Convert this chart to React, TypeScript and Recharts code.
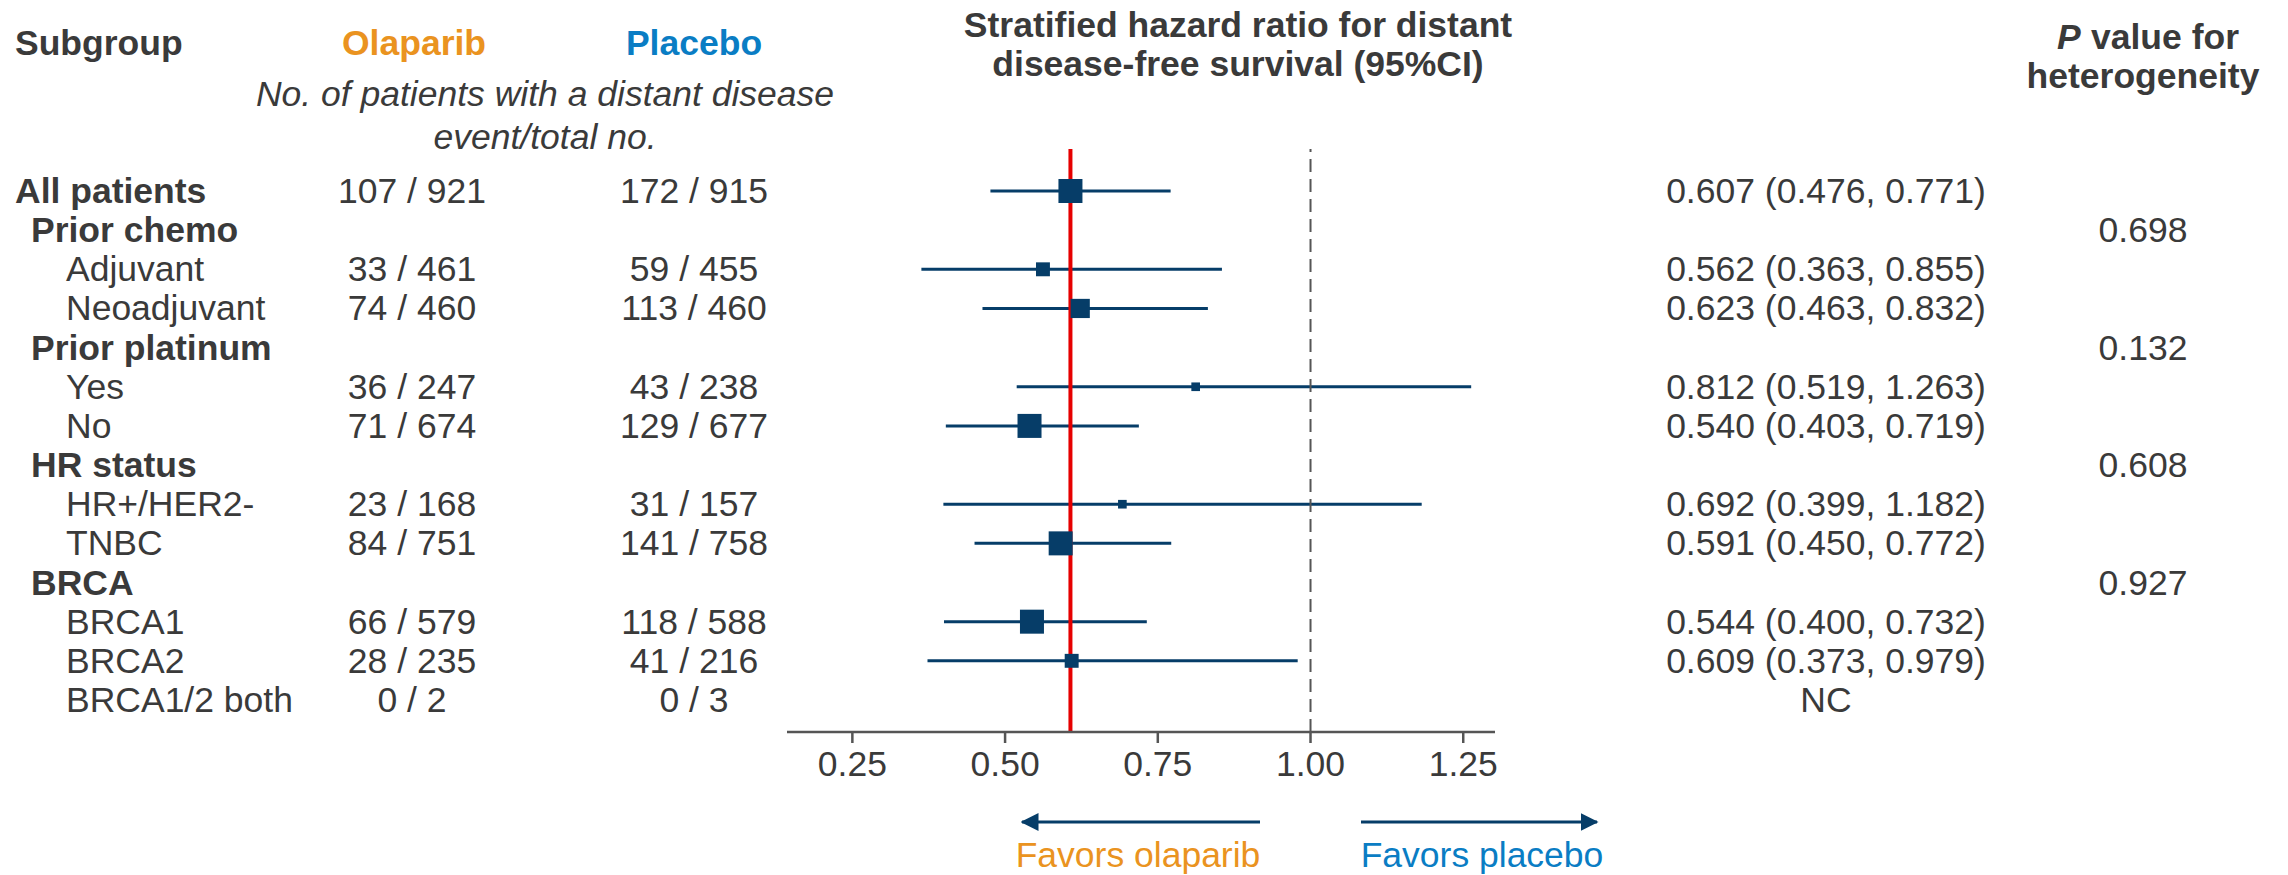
import React from "react";
import { ComposedChart, XAxis, YAxis, Scatter, ReferenceLine } from "recharts";

// ---------- data ----------
const subgroups = [
  "All patients", "Prior chemo", "Adjuvant", "Neoadjuvant", "Prior platinum", "Yes", "No",
  "HR status", "HR+/HER2-", "TNBC", "BRCA", "BRCA1", "BRCA2", "BRCA1/2 both",
];
const levels = [0, 1, 2, 2, 1, 2, 2, 1, 2, 2, 1, 2, 2, 2];
const olaparibEvents = [107, null, 33, 74, null, 36, 71, null, 23, 84, null, 66, 28, 0];
const olaparibTotal = [921, null, 461, 460, null, 247, 674, null, 168, 751, null, 579, 235, 2];
const placeboEvents = [172, null, 59, 113, null, 43, 129, null, 31, 141, null, 118, 41, 0];
const placeboTotal = [915, null, 455, 460, null, 238, 677, null, 157, 758, null, 588, 216, 3];
const hazardRatio = [0.607, null, 0.562, 0.623, null, 0.812, 0.540, null, 0.692, 0.591, null, 0.544, 0.609, null];
const ciLower = [0.476, null, 0.363, 0.463, null, 0.519, 0.403, null, 0.399, 0.450, null, 0.400, 0.373, null];
const ciUpper = [0.771, null, 0.855, 0.832, null, 1.263, 0.719, null, 1.182, 0.772, null, 0.732, 0.979, null];
const pHeterogeneity = [null, "0.698", null, null, "0.132", null, null, "0.608", null, null, "0.927", null, null, null];
const markerWeight = [1, null, 0.58, 0.8, null, 0.36, 1, null, 0.36, 1, null, 1, 0.58, null];
const xTicks = [0.25, 0.5, 0.75, 1.0, 1.25];
const overallHR = 0.607;
const noEffect = 1.0;

// ---------- styles ----------
const FONT = "'Liberation Sans', Arial, Helvetica, sans-serif";
const TEXT = "#3a3a3a";
const NAVY = "#063d68";
const ORANGE = "#EA9320";
const BLUE = "#0A7DC4";
const FS = 35.5;
const DY = 12;

const rowIndex = subgroups.map((_, i) => i);
const points = rowIndex
  .filter((i) => hazardRatio[i] != null)
  .map((i) => ({ x: hazardRatio[i] as number, y: i, w: markerWeight[i] as number }));
const segments = rowIndex.filter((i) => hazardRatio[i] != null);

const fmt = (v: number) => v.toFixed(3);
const hrText = (i: number) => {
  if (hazardRatio[i] != null)
    return `${fmt(hazardRatio[i] as number)} (${fmt(ciLower[i] as number)}, ${fmt(ciUpper[i] as number)})`;
  if (olaparibEvents[i] != null) return "NC";
  return "";
};
const labelX = [15, 31, 66];

const LeftTick = (props: any) => {
  const { y, payload } = props;
  const i = payload.value as number;
  const lvl = levels[i];
  return (
    <g fontFamily={FONT} fontSize={FS} fill={TEXT}>
      <text x={labelX[lvl]} y={y + DY} fontWeight={lvl < 2 ? "bold" : "normal"} fill={TEXT}>
        {subgroups[i]}
      </text>
      {olaparibEvents[i] != null && (
        <text x={412} y={y + DY} textAnchor="middle" fill={TEXT}>
          {`${olaparibEvents[i]} / ${olaparibTotal[i]}`}
        </text>
      )}
      {placeboEvents[i] != null && (
        <text x={694} y={y + DY} textAnchor="middle" fill={TEXT}>
          {`${placeboEvents[i]} / ${placeboTotal[i]}`}
        </text>
      )}
    </g>
  );
};

const RightTick = (props: any) => {
  const { y, payload } = props;
  const i = payload.value as number;
  return (
    <g fontFamily={FONT} fontSize={FS} fill={TEXT}>
      <text x={1826} y={y + DY} textAnchor="middle" fill={TEXT}>
        {hrText(i)}
      </text>
      {pHeterogeneity[i] != null && (
        <text x={2143} y={y + DY} textAnchor="middle" fill={TEXT}>
          {pHeterogeneity[i]}
        </text>
      )}
    </g>
  );
};

const SquareShape = (props: any) => {
  const { cx, cy, payload } = props;
  const s = 24 * payload.w;
  return <rect x={cx - s / 2} y={cy - s / 2} width={s} height={s} fill={NAVY} />;
};

const W = 2288;
const H = 875;
const PLOT_TOP = 149;
const AXIS_Y = 732;
const XAXIS_H = 60;

export default function App() {
  return (
    <div style={{ position: "absolute", left: 0, top: 0, width: W, height: H, background: "#fff" }}>
      <ComposedChart
        width={W}
        height={H}
        data={points}
        margin={{ top: PLOT_TOP, right: 0, bottom: H - AXIS_Y - XAXIS_H, left: 0 }}
      >
        <XAxis
          type="number"
          dataKey="x"
          domain={[0.143, 1.302]}
          allowDataOverflow
          ticks={xTicks}
          interval={0}
          tickFormatter={(v: number) => v.toFixed(2)}
          height={XAXIS_H}
          tickSize={11}
          tickMargin={8}
          stroke="#555"
          axisLine={{ stroke: "#555", strokeWidth: 2.5 }}
          tickLine={{ stroke: "#555", strokeWidth: 2.5 }}
          tick={{ fill: TEXT, fontSize: FS, fontFamily: FONT }}
        />
        <YAxis
          yAxisId="left"
          type="number"
          dataKey="y"
          domain={[-1.0728, 13.818]}
          allowDataOverflow
          reversed
          ticks={rowIndex}
          interval={0}
          width={787}
          axisLine={false}
          tickLine={false}
          tick={<LeftTick />}
        />
        <YAxis
          yAxisId="right"
          orientation="right"
          type="number"
          domain={[-1.0728, 13.818]}
          allowDataOverflow
          reversed
          ticks={rowIndex}
          interval={0}
          width={793}
          axisLine={false}
          tickLine={false}
          tick={<RightTick />}
        />
        {segments.map((i) => (
          <ReferenceLine
            key={`ci-${i}`}
            yAxisId="left"
            segment={[
              { x: ciLower[i] as number, y: i },
              { x: ciUpper[i] as number, y: i },
            ]}
            stroke={NAVY}
            strokeWidth={3}
          />
        ))}
        <ReferenceLine yAxisId="left" x={overallHR} stroke="#e60000" strokeWidth={4} />
        <ReferenceLine yAxisId="left" x={noEffect} stroke="#555" strokeWidth={2} strokeDasharray="13 7" />
        <Scatter
          yAxisId="left"
          data={points}
          dataKey="y"
          shape={<SquareShape />}
          isAnimationActive={false}
        />
      </ComposedChart>
      <svg
        width={W}
        height={H}
        style={{ position: "absolute", left: 0, top: 0, pointerEvents: "none" }}
        fontFamily={FONT}
      >
        <defs>
          <marker id="arrowHead" markerWidth="6" markerHeight="6" refX="5.5" refY="3" orient="auto" markerUnits="strokeWidth">
            <path d="M0,0 L6,3 L0,6 Z" fill={NAVY} />
          </marker>
        </defs>
        <text x={15} y={55} fontSize={FS} fontWeight="bold" fill={TEXT}>Subgroup</text>
        <text x={414} y={55} fontSize={FS} fontWeight="bold" fill={ORANGE} textAnchor="middle">Olaparib</text>
        <text x={694} y={55} fontSize={FS} fontWeight="bold" fill={BLUE} textAnchor="middle">Placebo</text>
        <text x={545} y={106} fontSize={FS} fontStyle="italic" fill={TEXT} textAnchor="middle">
          No. of patients with a distant disease
        </text>
        <text x={545} y={149} fontSize={FS} fontStyle="italic" fill={TEXT} textAnchor="middle">
          event/total no.
        </text>
        <text x={1238} y={37} fontSize={FS} fontWeight="bold" fill={TEXT} textAnchor="middle">
          Stratified hazard ratio for distant
        </text>
        <text x={1238} y={76} fontSize={FS} fontWeight="bold" fill={TEXT} textAnchor="middle">
          disease-free survival (95%CI)
        </text>
        <text x={2057} y={49} fontSize={FS} fontWeight="bold" fontStyle="italic" fill={TEXT}>P</text>
        <text x={2091} y={49} fontSize={FS} fontWeight="bold" fill={TEXT}>value for</text>
        <text x={2143} y={88} fontSize={FS} fontWeight="bold" fill={TEXT} textAnchor="middle">
          heterogeneity
        </text>
        <line x1={1260} y1={822} x2={1022} y2={822} stroke={NAVY} strokeWidth={3} markerEnd="url(#arrowHead)" />
        <line x1={1361} y1={822} x2={1597} y2={822} stroke={NAVY} strokeWidth={3} markerEnd="url(#arrowHead)" />
        <text x={1138} y={867} fontSize={FS} fill={ORANGE} textAnchor="middle">Favors olaparib</text>
        <text x={1482} y={867} fontSize={FS} fill={BLUE} textAnchor="middle">Favors placebo</text>
      </svg>
    </div>
  );
}
